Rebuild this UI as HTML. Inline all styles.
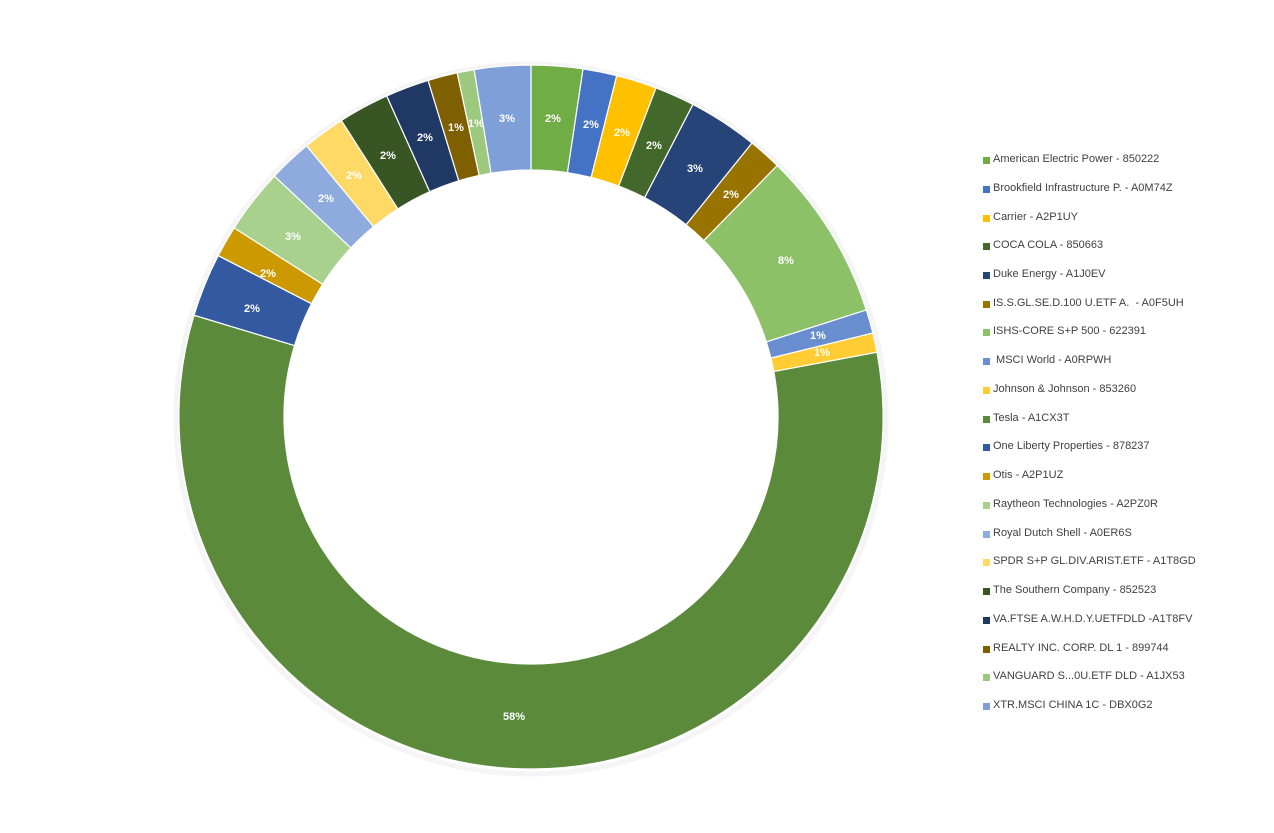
<!DOCTYPE html>
<html><head><meta charset="utf-8"><style>
body{margin:0;background:#fff;width:1274px;height:833px;overflow:hidden;font-family:"Liberation Sans",sans-serif}
.lg{position:absolute;left:983px;font-size:11px;color:#404040;white-space:pre}
.lg i{position:absolute;left:0;top:4px;width:7px;height:7px}
.lg span{position:absolute;left:10px;top:0}
</style></head><body>
<svg id="s" width="1274" height="833" style="position:absolute;left:0;top:0"></svg>
<div id="L"></div>
<script>
var d=[
["American Electric Power - 850222","#70AD47",8.5,"2%",553,118],
["Brookfield Infrastructure P. - A0M74Z","#4472C4",14.1,"2%",591,124],
["Carrier - A2P1UY","#FFC000",20.8,"2%",622,132],
["COCA COLA - 850663","#43682B",27.4,"2%",654,145],
["Duke Energy - A1J0EV","#264478",38.9,"3%",695,168],
["IS.S.GL.SE.D.100 U.ETF A.  - A0F5UH","#997300",44.4,"2%",731,194],
["ISHS-CORE S+P 500 - 622391","#8CC168",72.3,"8%",786,260],
[" MSCI World - A0RPWH","#698ED0",76.2,"1%",818,335],
["Johnson & Johnson - 853260","#FFCD33",79.4,"1%",822,352],
["Tesla - A1CX3T","#5A8A3A",286.8,"58%",514,716],
["One Liberty Properties - 878237","#335AA1",297.3,"2%",252,308],
["Otis - A2P1UZ","#CC9A00",302.5,"2%",268,273],
["Raytheon Technologies - A2PZ0R","#A9D18E",313.2,"3%",293,236],
["Royal Dutch Shell - A0ER6S","#8FAADC",320.4,"2%",326,198],
["SPDR S+P GL.DIV.ARIST.ETF - A1T8GD","#FFD966",327.4,"2%",354,175],
["The Southern Company - 852523","#375623",335.8,"2%",388,155],
["VA.FTSE A.W.H.D.Y.UETFDLD -A1T8FV","#203864",343,"2%",425,137],
["REALTY INC. CORP. DL 1 - 899744","#7F6000",347.9,"1%",456,127],
["VANGUARD S...0U.ETF DLD - A1JX53","#9DC97E",350.7,"1%",476,123],
["XTR.MSCI CHINA 1C - DBX0G2","#7F9FD8",360,"3%",507,118]];
var cx=531,cy=417,R=352,r=247,s="",a0=0,lg="";
function p(a,rr){var t=a*Math.PI/180;return (cx+rr*Math.sin(t)).toFixed(2)+","+(cy-rr*Math.cos(t)).toFixed(2)}
s+='<circle cx="531" cy="419" r="355" fill="none" stroke="#f5f5f5" stroke-width="5"/>';
d.forEach(function(e,i){var a1=e[2],lf=(a1-a0)>180?1:0;
s+='<path d="M'+p(a0,R)+'A'+R+','+R+' 0 '+lf+' 1 '+p(a1,R)+'L'+p(a1,r)+'A'+r+','+r+' 0 '+lf+' 0 '+p(a0,r)+'Z" fill="'+e[1]+'" stroke="#fff" stroke-width="1.2"/>';
s+='<text x="'+e[4]+'" y="'+(e[5]+4)+'" fill="#fff" font-size="11" font-weight="bold" text-anchor="middle" font-family="Liberation Sans">'+e[3]+'</text>';
a0=a1;
lg+='<div class="lg" style="top:'+(153+i*28.74).toFixed(1)+'px"><i style="background:'+e[1]+'"></i><span>'+e[0].replace(/&/g,"&amp;")+'</span></div>';});
document.getElementById("s").innerHTML=s;document.getElementById("L").innerHTML=lg;
</script>
</body></html>
